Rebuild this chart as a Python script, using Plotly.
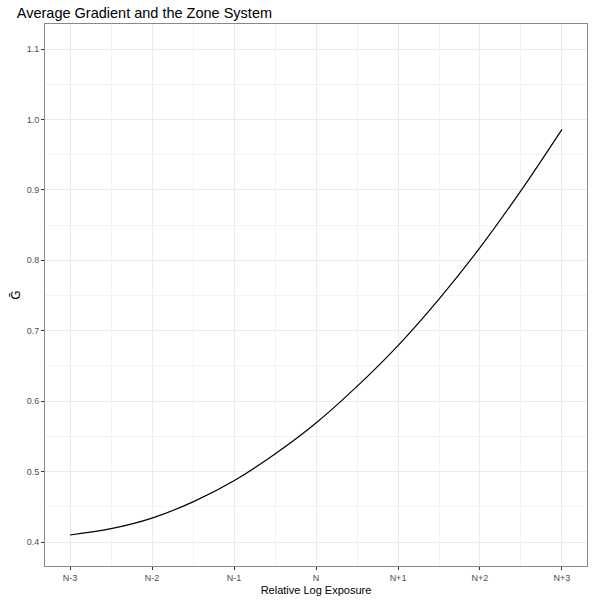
import plotly.graph_objects as go

# relative log exposure (stops around N) and the average gradient
exposure = [-3, -2.5, -2, -1.5, -1, -0.5, 0, 0.5, 1, 1.5, 2, 2.5, 3]
avg_gradient = [0.410, 0.419, 0.434, 0.457, 0.487, 0.525, 0.569,
                0.621, 0.679, 0.745, 0.818, 0.899, 0.986]

zone_ticks = [-3, -2, -1, 0, 1, 2, 3]
zone_labels = ["N-3", "N-2", "N-1", "N", "N+1", "N+2", "N+3"]
g_ticks = [0.4, 0.5, 0.6, 0.7, 0.8, 0.9, 1.0, 1.1]

fig = go.Figure(
    data=[go.Scatter(x=exposure, y=avg_gradient, mode="lines",
                     line=dict(color="black", width=1.2, shape="spline", smoothing=1),
                     showlegend=False)]
)

axis_style = dict(
    showgrid=True, gridcolor="#EBEBEB", gridwidth=1,
    minor=dict(showgrid=True, gridcolor="#F3F3F3", gridwidth=0.6),
    showline=True, linecolor="#888888", linewidth=1, mirror=True,
    ticks="outside", ticklen=3, tickcolor="#333333",
    tickfont=dict(size=9, color="#4D4D4D"),
    zeroline=False, automargin=False,
)

fig.update_xaxes(axis_style, range=[-3.305, 3.305],
                 tickvals=zone_ticks, ticktext=zone_labels,
                 minor_tickvals=[-2.5, -1.5, -0.5, 0.5, 1.5, 2.5],
                 title=dict(text="Relative Log Exposure", font=dict(size=11, color="black"), standoff=4))
fig.update_yaxes(axis_style, range=[0.366, 1.1355],
                 tickvals=g_ticks, ticktext=["0.4", "0.5", "0.6", "0.7", "0.8", "0.9", "1.0", "1.1"],
                 minor_tickvals=[0.45, 0.55, 0.65, 0.75, 0.85, 0.95, 1.05],
                 title=dict(text="\u1E20", font=dict(size=12, color="black", family="DejaVu Sans"),
                            standoff=3))

fig.update_layout(
    width=600, height=600,
    paper_bgcolor="white", plot_bgcolor="white",
    font=dict(family="Liberation Sans, Arial, sans-serif"),
    margin=dict(l=45, r=13, t=24, b=34),
    title=dict(text="Average Gradient and the Zone System", x=0.028, xanchor="left",
               y=0.978, yanchor="middle", font=dict(size=14.5, color="black")),
)

# drop the browser's default body margin so the 600x600 figure sits at the window origin
fig.write_html("out.html", config={"displayModeBar": False},
               post_script="document.body.style.margin='0';")
